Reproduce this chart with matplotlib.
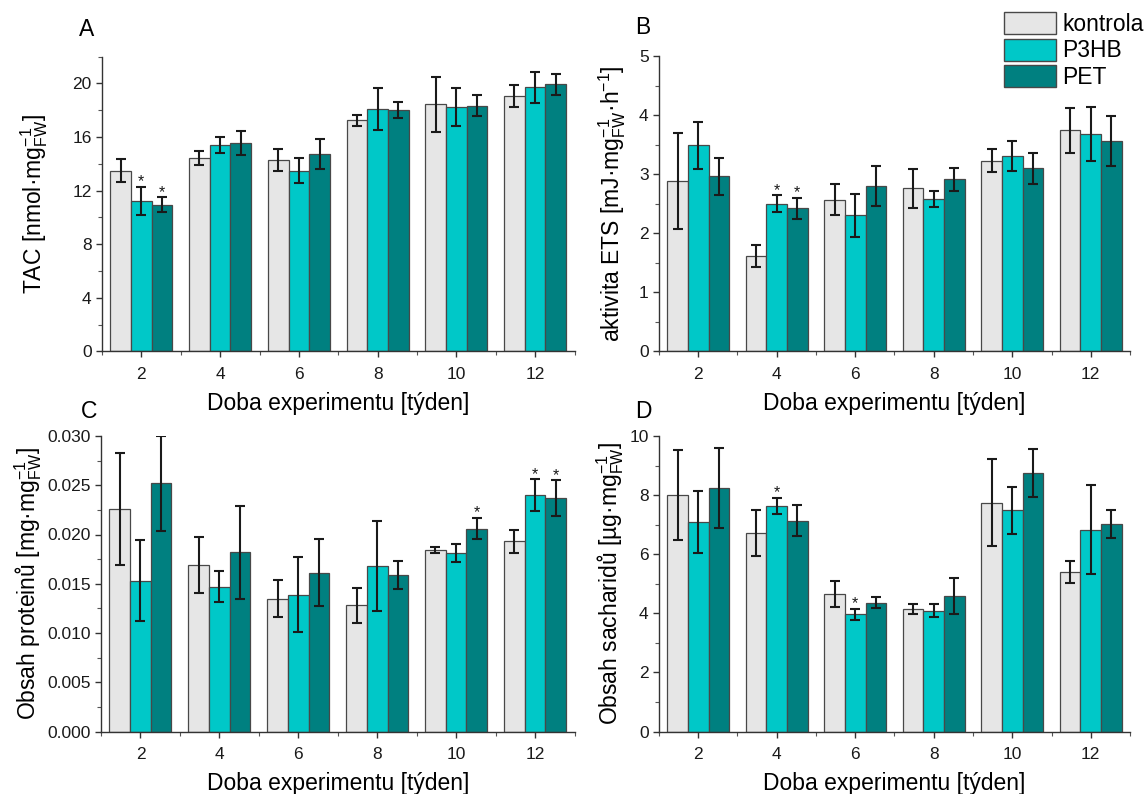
import numpy as np
import matplotlib
matplotlib.use("Agg")
import matplotlib.pyplot as plt
from matplotlib.patches import Patch
from matplotlib.ticker import MultipleLocator, FormatStrFormatter

plt.rcParams['font.family'] = ['Liberation Sans', 'DejaVu Sans']
plt.rcParams['mathtext.fontset'] = 'custom'
plt.rcParams['mathtext.rm'] = 'Liberation Sans'
plt.rcParams['mathtext.it'] = 'Liberation Sans:italic'
plt.rcParams['mathtext.bf'] = 'Liberation Sans:bold'

# ---- data ----
weeks = ['2', '4', '6', '8', '10', '12']
series = ['kontrola', 'P3HB', 'PET']
colors = ['#e6e6e6', '#00c8c8', '#008080']

# A - TAC
tac_kontrola = [13.5, 14.45, 14.3, 17.25, 18.45, 19.05]
tac_p3hb = [11.25, 15.4, 13.5, 18.1, 18.25, 19.7]
tac_pet = [10.95, 15.55, 14.75, 18.0, 18.35, 19.95]
tac_kontrola_err = [0.85, 0.53, 0.83, 0.43, 2.04, 0.82]
tac_p3hb_err = [1.05, 0.6, 0.9, 1.57, 1.42, 1.19]
tac_pet_err = [0.57, 0.9, 1.1, 0.58, 0.77, 0.78]
tac_stars = [(0, 1), (0, 2)]

# B - ETS activity
ets_kontrola = [2.88, 1.61, 2.57, 2.76, 3.23, 3.74]
ets_p3hb = [3.49, 2.5, 2.3, 2.58, 3.31, 3.68]
ets_pet = [2.96, 2.42, 2.8, 2.91, 3.1, 3.56]
ets_kontrola_err = [0.81, 0.19, 0.26, 0.33, 0.19, 0.38]
ets_p3hb_err = [0.4, 0.14, 0.37, 0.13, 0.25, 0.45]
ets_pet_err = [0.32, 0.18, 0.34, 0.19, 0.26, 0.42]
ets_stars = [(1, 1), (1, 2)]

# C - proteins
prot_kontrola = [0.0226, 0.0169, 0.0135, 0.0128, 0.0184, 0.0193]
prot_p3hb = [0.0153, 0.0147, 0.0139, 0.0168, 0.0181, 0.0240]
prot_pet = [0.0252, 0.0182, 0.0161, 0.0159, 0.0206, 0.0237]
prot_kontrola_err = [0.0057, 0.0028, 0.0019, 0.0018, 0.0003, 0.0012]
prot_p3hb_err = [0.0041, 0.0016, 0.0038, 0.0046, 0.0009, 0.0016]
prot_pet_err = [0.0048, 0.0047, 0.0034, 0.0014, 0.0011, 0.0018]
prot_stars = [(4, 2), (5, 1), (5, 2)]

# D - saccharides
sach_kontrola = [8.0, 6.73, 4.65, 4.15, 7.74, 5.4]
sach_p3hb = [7.1, 7.63, 3.96, 4.09, 7.48, 6.83]
sach_pet = [8.23, 7.13, 4.36, 4.58, 8.74, 7.02]
sach_kontrola_err = [1.53, 0.78, 0.43, 0.17, 1.47, 0.36]
sach_p3hb_err = [1.05, 0.28, 0.2, 0.22, 0.8, 1.5]
sach_pet_err = [1.35, 0.53, 0.19, 0.61, 0.82, 0.48]
sach_stars = [(1, 1), (2, 1)]

xlabel = 'Doba experimentu [týden]'


def draw_panel(ax, means, errs, stars, ylim, major, minor, ylabel,
               ylabelpad=4, fmt=None):
    x = np.arange(len(weeks))
    w = 0.262
    for i, (m, e) in enumerate(zip(means, errs)):
        ax.bar(x + (i - 1) * w, m, width=w, color=colors[i],
               edgecolor='#484848', linewidth=0.9, yerr=e, capsize=3.5,
               error_kw=dict(elinewidth=1.5, capthick=1.5, ecolor='#1a1a1a'),
               zorder=2)
    # significance marks sit on top of the error bar
    for g, s in stars:
        top = means[s][g] + errs[s][g]
        ax.annotate('*', (x[g] + (s - 1) * w, top), xytext=(0, -2),
                    textcoords='offset points', ha='center', va='bottom',
                    fontsize=11.5, color='#1a1a1a')
    ax.set_xlim(-0.5, len(weeks) - 0.5)
    ax.set_ylim(*ylim)
    ax.set_xticks(x)
    ax.set_xticklabels(weeks)
    ax.set_xticks(np.arange(-0.5, len(weeks), 1), minor=True)
    ax.yaxis.set_major_locator(MultipleLocator(major))
    ax.yaxis.set_minor_locator(MultipleLocator(minor))
    if fmt:
        ax.yaxis.set_major_formatter(FormatStrFormatter(fmt))
    for side in ['top', 'right']:
        ax.spines[side].set_visible(False)
    for side in ['left', 'bottom']:
        ax.spines[side].set_color('#333333')
        ax.spines[side].set_linewidth(1.0)
    ax.tick_params(which='major', direction='out', length=4, width=1,
                   colors='#333333', labelcolor='#1a1a1a', labelsize=12.5)
    ax.tick_params(which='minor', direction='out', length=3, width=0.8,
                   colors='#555555')
    ax.tick_params(axis='x', which='major', pad=7)
    ax.set_xlabel(xlabel, fontsize=16.5, labelpad=7.5)
    ax.set_ylabel(ylabel, fontsize=16.5, labelpad=ylabelpad)


W, H = 1146, 794
fig = plt.figure(figsize=(W / 100, H / 100), dpi=100)

ax_a = fig.add_axes([102 / W, 1 - 351.3 / H, 472.5 / W, 294.6 / H])
ax_b = fig.add_axes([659 / W, 1 - 351.3 / H, 471 / W, 295.3 / H])
ax_c = fig.add_axes([101 / W, 1 - 731.5 / H, 473.5 / W, 295.5 / H])
ax_d = fig.add_axes([659 / W, 1 - 731.5 / H, 471 / W, 295.5 / H])

draw_panel(ax_a, [tac_kontrola, tac_p3hb, tac_pet],
           [tac_kontrola_err, tac_p3hb_err, tac_pet_err], tac_stars,
           (0, 22), 4, 2, r'TAC [nmol·mg$^{-1}_{\mathrm{FW}}$]', ylabelpad=16)
draw_panel(ax_b, [ets_kontrola, ets_p3hb, ets_pet],
           [ets_kontrola_err, ets_p3hb_err, ets_pet_err], ets_stars,
           (0, 5), 1, 0.5, r'aktivita ETS [mJ·mg$^{-1}_{\mathrm{FW}}$·h$^{-1}$]',
           ylabelpad=8)
draw_panel(ax_c, [prot_kontrola, prot_p3hb, prot_pet],
           [prot_kontrola_err, prot_p3hb_err, prot_pet_err], prot_stars,
           (0, 0.030), 0.005, 0.0025, r'Obsah proteinů [mg·mg$^{-1}_{\mathrm{FW}}$]',
           ylabelpad=2, fmt='%.3f')
draw_panel(ax_d, [sach_kontrola, sach_p3hb, sach_pet],
           [sach_kontrola_err, sach_p3hb_err, sach_pet_err], sach_stars,
           (0, 10), 2, 1, r'Obsah sacharidů [µg·mg$^{-1}_{\mathrm{FW}}$]',
           ylabelpad=2.5)

# panel letters
for letter, (px, py) in zip('ABCD', [(87, 30), (643, 28), (89, 411), (643, 411)]):
    fig.text(px / W, 1 - py / H, letter, ha='center', va='center', fontsize=16.5)

handles = [Patch(facecolor=c, edgecolor='#484848', linewidth=1.0) for c in colors]
fig.legend(handles, series, loc='upper left',
           bbox_to_anchor=(1004 / W, 1 - 12 / H), frameon=False,
           fontsize=16.5, handlelength=2.25, handleheight=1.1,
           handletextpad=0.3, labelspacing=0.12, borderpad=0,
           borderaxespad=0)

fig.savefig('out.png', dpi=100)
